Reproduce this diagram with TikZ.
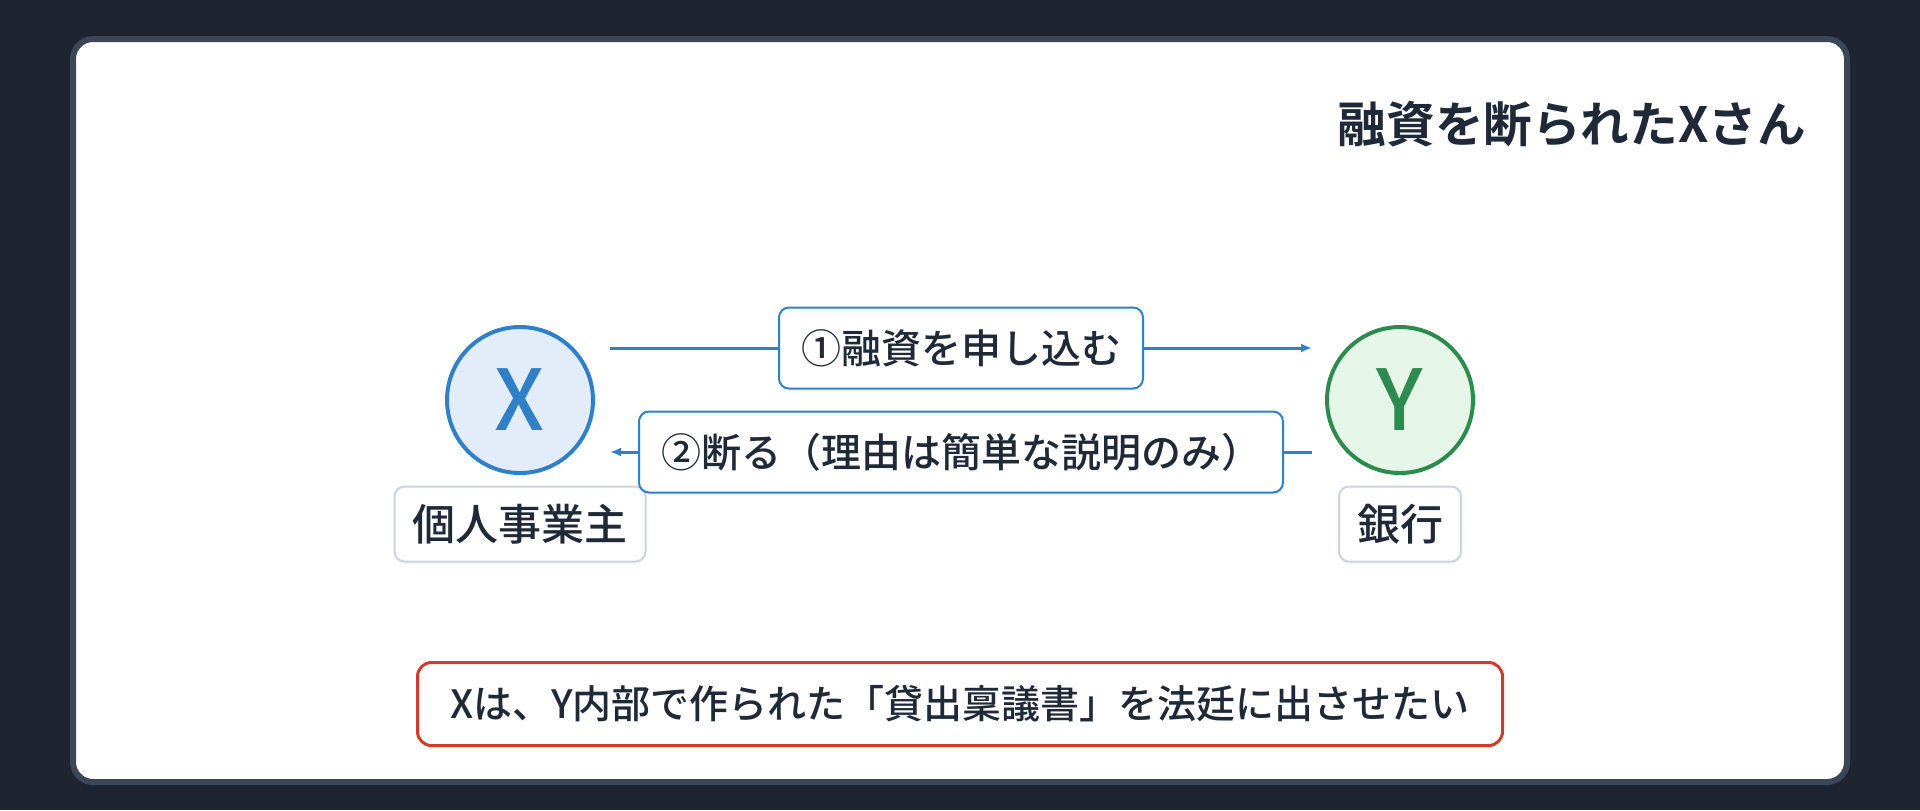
\documentclass[tikz,border=0pt]{standalone}
\usepackage{fontspec}
\setmainfont{Noto Sans CJK JP}[UprightFont=* Medium,BoldFont=* Bold]
\usetikzlibrary{arrows.meta,positioning,shadows}

\definecolor{bgdark}{HTML}{1E2530}
\definecolor{cardedge}{HTML}{3C4656}
\definecolor{inkdark}{HTML}{1F2937}
\definecolor{xblue}{HTML}{3080C8}
\definecolor{xfill}{HTML}{E3EDF9}
\definecolor{ygreen}{HTML}{2E8B4E}
\definecolor{yfill}{HTML}{E5F5E8}
\definecolor{tagedge}{HTML}{CBD5E1}
\definecolor{noteedge}{HTML}{C8402A}

\begin{document}
\begin{tikzpicture}[x=0.5pt, y=-0.5pt, >={Latex[length=5.5pt,width=4.5pt]}, semithick, node distance=62pt]
	\tikzstyle{party}=[circle, minimum size=73pt, inner sep=0pt, line width=2pt, font=\fontsize{42}{42}\selectfont]
	\tikzstyle{softshadow}=[drop shadow={opacity=0.08, shadow xshift=0pt, shadow yshift=-1.5pt}]
	\tikzstyle{tag}=[draw=tagedge, fill=white, line width=1pt, rounded corners=5pt, minimum height=37.5pt, inner xsep=9pt, text=inkdark, font=\fontsize{21.5}{21.5}\selectfont, softshadow]
	\tikzstyle{msg}=[draw=xblue, fill=white, line width=1pt, rounded corners=5pt, minimum height=40.5pt, inner xsep=11pt, text=inkdark, font=\fontsize{20}{20}\selectfont, softshadow]
	\tikzstyle{flow}=[draw=xblue, line width=1.5pt]
	\tikzstyle{note}=[draw=noteedge, fill=white, line width=1.5pt, rounded corners=7pt, minimum width=542.5pt, minimum height=41.5pt, text=inkdark, font=\fontsize{19.5}{19.5}\selectfont, softshadow]

	\fill[bgdark] (0,0) rectangle (1920,810);
	\draw[cardedge, line width=3pt, fill=white, rounded corners=10pt] (73,39) rectangle (1847,782);

	\node[anchor=east, text=inkdark, font=\bfseries\fontsize{24.3}{24.3}\selectfont] (title) at (1813,124) {融資を断られたXさん};

	\node[party, draw=xblue, fill=xfill, text=xblue] (x) at (520,400) {X};
	\node[party, draw=ygreen, fill=yfill, text=ygreen] (y) [right of=x, node distance=440pt] {Y};
	\node[tag] (xname) [below of=x] {個人事業主};
	\node[tag] (yname) [below of=y] {銀行};

	\draw[->, flow] ([shift={(15,-52)}]x.east) -- node[msg] (apply) {①融資を申し込む} ([shift={(-13,-52)}]y.west);
	\draw[->, flow] ([shift={(-13,52)}]y.west) -- node[msg] (refuse) {②断る（理由は簡単な説明のみ）} ([shift={(15,52)}]x.east);

	\node[note] (goal) at (960,704) {Xは、Y内部で作られた「貸出稟議書」を法廷に出させたい};
\end{tikzpicture}
\end{document}
